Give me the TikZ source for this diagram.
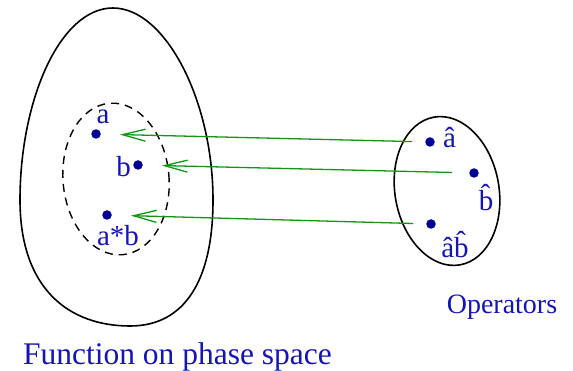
\documentclass[tikz,border=0pt]{standalone}
\usepackage{fontspec}
\setmainfont{Liberation Serif}
\newfontfamily\tms{Liberation Serif}
\usetikzlibrary{arrows.meta}
\definecolor{lblue}{RGB}{20,20,185}
\definecolor{dblue}{RGB}{0,0,150}
\definecolor{agreen}{RGB}{20,150,20}
\begin{document}
\begin{tikzpicture}[x=1pt,y=-1pt,
  dot/.style={circle,fill=dblue,draw=none,minimum size=9.5pt,inner sep=0pt},
  lbl/.style={text=lblue,anchor=base,inner sep=0pt,font=\tms\fontsize{29}{30}\selectfont},
  bigtxt/.style={text=lblue,anchor=base,inner sep=0pt},
  setline/.style={black,line width=1.6pt},
  mapto/.style={agreen,line width=1.3pt,-{Straight Barb[length=23pt,width=12pt,line width=1.3pt]},shorten <=13pt,shorten >=19pt}]
\useasboundingbox (0,0) rectangle (573,371);
% big egg
\draw[setline] (113,8) .. controls (165,8) and (213,100) .. (213,200)
  .. controls (213,280) and (185,326) .. (130,326)
  .. controls (70,326) and (20,290) .. (20,200)
  .. controls (20,100) and (60,8) .. (113,8) -- cycle;
% dashed ellipse
\draw[black,line width=1.4pt,dash pattern=on 8pt off 6pt] (116,179) ellipse [x radius=53, y radius=76, rotate=5];
% operators oval
\draw[setline] (447,191) ellipse [x radius=52, y radius=75, rotate=10];
% dots
\node[dot] (a) at (96,134) {};
\node[dot] (b) at (138,165) {};
\node[dot] (ab) at (107,215) {};
\node[dot] (ha) at (430,142) {};
\node[dot] (hb) at (474,173) {};
\node[dot] (hab) at (431,224) {};
% labels
\node[lbl] (la) at (103,124) {a};
\node[lbl] (lb) at (123.5,177) {b};
\node[lbl] (lab) at (118,246) {a*b};
\node[lbl] (lha) at (449.5,148) {\^a};
\node[lbl] (lhb) at (486,211) {\^b};
\node[lbl] (lhab) at (455,258) {\^a\^b};
\node[bigtxt,font=\tms\fontsize{28}{30}\selectfont] (ops) at (502,314) {Operators};
\node[bigtxt,font=\tms\fontsize{31.5}{33}\selectfont] (fps) at (177.5,364.5) {Function on phase space};
% arrows
\draw[mapto] (ha) -- (a);
\draw[mapto, shorten <=17pt] (hb) -- (b);
\draw[mapto] (hab) -- (ab);
\end{tikzpicture}
\end{document}
